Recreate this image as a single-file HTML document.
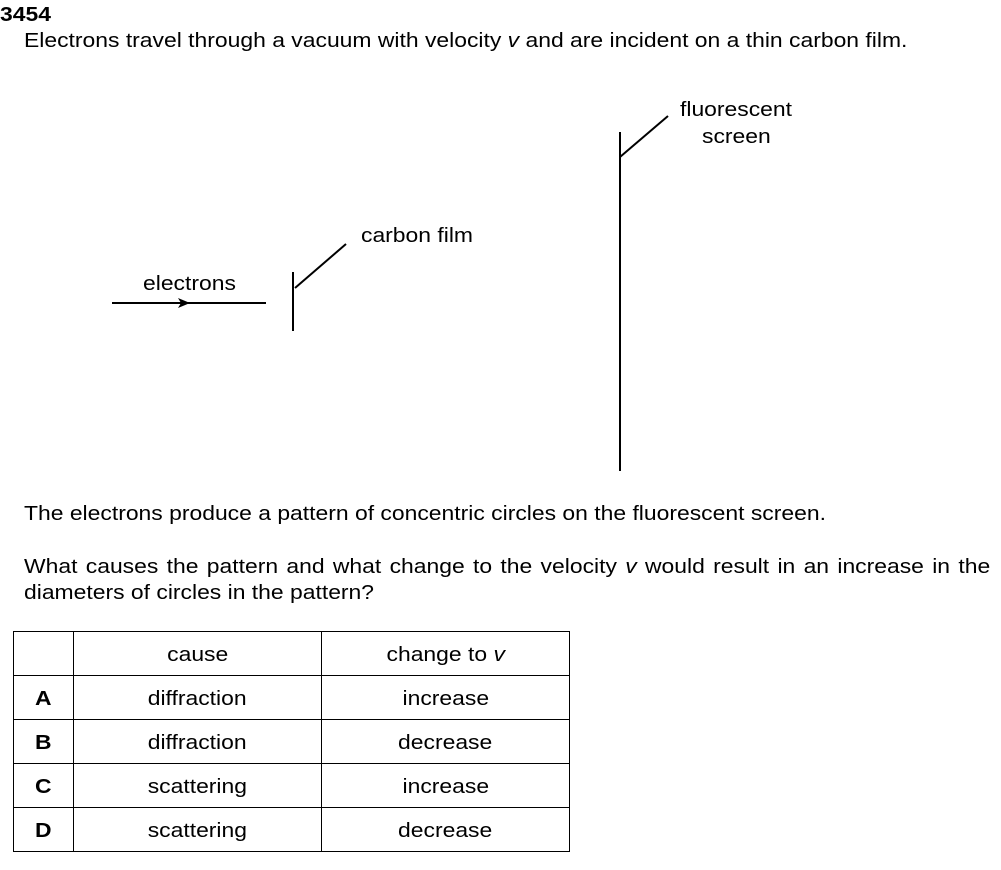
<!DOCTYPE html>
<html><head><style>
body{margin:0;width:1001px;height:870px;background:#fff;font-family:"Liberation Sans",Arial,sans-serif;color:#000;position:relative;overflow:hidden}
.t{position:absolute;font-size:20px;white-space:nowrap;line-height:1;transform:scaleX(1.145);transform-origin:0 0}
table{position:absolute;left:13px;top:631px;border-collapse:collapse;font-size:20px}
td{border:1px solid #000;text-align:center;height:44px;padding:4px 0 0 0;box-sizing:border-box}
td span{display:inline-block;transform:scaleX(1.145)}
</style></head><body>
<div class="t" style="left:0;top:5px;font-weight:bold">3454</div>
<div class="t" style="left:24px;top:31px">Electrons travel through a vacuum with velocity <i>v</i> and are incident on a thin carbon film.</div>
<svg style="position:absolute;left:0;top:0" width="1001" height="870">
<g stroke="#000" stroke-width="2" fill="none">
<line x1="112" y1="303" x2="266" y2="303"/>
<line x1="293" y1="272" x2="293" y2="331"/>
<line x1="295" y1="288" x2="346" y2="244"/>
<line x1="620" y1="132" x2="620" y2="471"/>
<line x1="620" y1="157" x2="668" y2="116"/>
</g>
<polygon points="190,303 178,298 181,303 178,308" fill="#000"/>
</svg>
<div class="t" style="left:143px;top:274px">electrons</div>
<div class="t" style="left:361px;top:226px">carbon film</div>
<div class="t" style="left:680px;top:100px">fluorescent</div>
<div class="t" style="left:702px;top:127px">screen</div>
<div class="t" style="left:24px;top:504px">The electrons produce a pattern of concentric circles on the fluorescent screen.</div>
<div class="t" style="left:24px;top:557px;word-spacing:1.7px">What causes the pattern and what change to the velocity <i>v</i> would result in an increase in the</div>
<div class="t" style="left:24px;top:583px">diameters of circles in the pattern?</div>
<table>
<tr><td style="width:60px"></td><td style="width:248px"><span>cause</span></td><td style="width:248px"><span>change to <i>v</i></span></td></tr>
<tr><td><b><span>A</span></b></td><td><span>diffraction</span></td><td><span>increase</span></td></tr>
<tr><td><b><span>B</span></b></td><td><span>diffraction</span></td><td><span>decrease</span></td></tr>
<tr><td><b><span>C</span></b></td><td><span>scattering</span></td><td><span>increase</span></td></tr>
<tr><td><b><span>D</span></b></td><td><span>scattering</span></td><td><span>decrease</span></td></tr>
</table>
</body></html>
